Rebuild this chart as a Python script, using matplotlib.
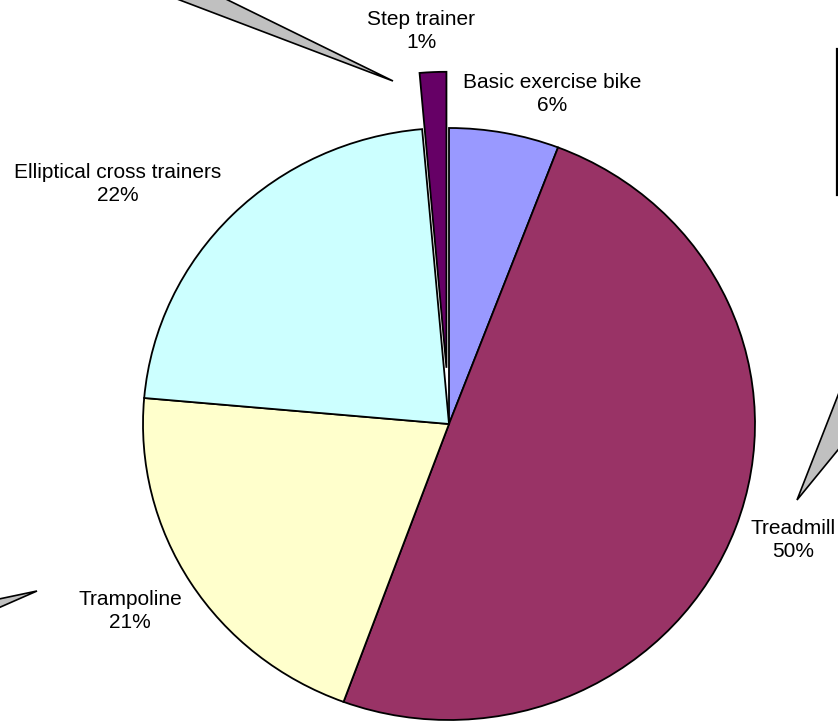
import matplotlib
matplotlib.use('Agg')
from matplotlib import pyplot as plt
from matplotlib.patches import Polygon, Rectangle

categories = ['Basic exercise bike', 'Treadmill', 'Trampoline',
              'Elliptical cross trainers', 'Step trainer']
shares = [5.8, 49.8, 20.8, 22.2, 1.4]
colors = ['#9999FF', '#993366', '#FFFFCC', '#CCFFFF', '#660066']
explode = [0, 0, 0, 0, 0.19]

plt.rcParams['font.family'] = ['Liberation Sans', 'DejaVu Sans']

W, H = 838, 721
fig = plt.figure(figsize=(W / 100, H / 100), dpi=100)
fig.patch.set_facecolor('white')

# pie, slightly wider than tall like the original
cx, cy, rx, ry = 449, 424, 306, 296
ax = fig.add_axes([0, 0, 1, 1])
ax.pie(shares, colors=colors, startangle=90, counterclock=False,
       explode=explode,
       wedgeprops=dict(edgecolor='black', linewidth=1.3))
ax.set_aspect('auto')
ax.set_xlim(-cx / rx, (W - cx) / rx)
ax.set_ylim(-(H - cy) / ry, cy / ry)
ax.axis('off')

# overlay in pixel coords for labels and the stray callout shapes
ov = fig.add_axes([0, 0, 1, 1])
ov.set_xlim(0, W)
ov.set_ylim(H, 0)
ov.axis('off')
ov.patch.set_alpha(0)

gray = '#C0C0C0'
ov.add_patch(Polygon([(393, 81), (127, -20), (187, -20)], closed=True,
                     fc=gray, ec='black', lw=1.2, clip_on=False))
ov.add_patch(Polygon([(797, 500), (860, 339), (860, 423)], closed=True,
                     fc=gray, ec='black', lw=1.2, clip_on=False))
ov.add_patch(Polygon([(37, 591), (-20, 603), (-20, 616)], closed=True,
                     fc=gray, ec='black', lw=1.2, clip_on=False))
ov.add_patch(Rectangle((836.5, 49), 80, 146, fc='white', ec='black',
                       lw=1.6, clip_on=False))

label_pos = {
    'Basic exercise bike': (552, 94),
    'Treadmill': (793, 540),
    'Trampoline': (130, 611),
    'Elliptical cross trainers': (118, 184),
    'Step trainer': (421, 31),
}
for name, val in zip(categories, shares):
    x, y = label_pos[name]
    ov.text(x, y, '%s\n%.0f%%' % (name, val), ha='center', va='center',
            fontsize=15, color='black', linespacing=1.25)

fig.savefig('out.png', dpi=100)
